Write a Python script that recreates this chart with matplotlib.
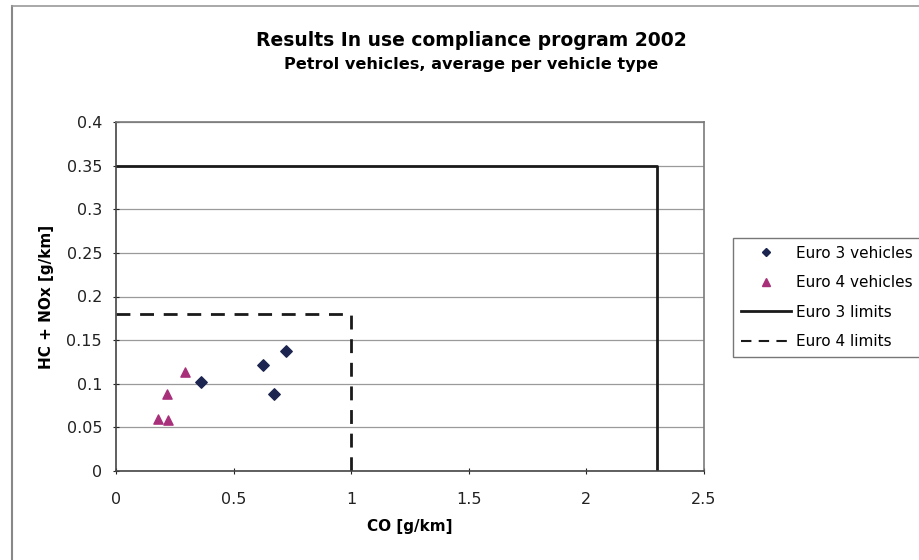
import matplotlib.pyplot as plt
from matplotlib.lines import Line2D

plt.rcParams['font.family'] = ['DejaVu Sans']

# datos
euro3_co = [0.36, 0.625, 0.673, 0.724]
euro3_hc = [0.102, 0.121, 0.088, 0.137]
euro4_co = [0.18, 0.219, 0.216, 0.293]
euro4_hc = [0.060, 0.059, 0.088, 0.114]

# limites (CO, HC+NOx)
euro3_lim = [2.3, 0.35]
euro4_lim = [1.0, 0.18]

x_ticks = [0, 0.5, 1, 1.5, 2, 2.5]
y_ticks = [0, 0.05, 0.1, 0.15, 0.2, 0.25, 0.3, 0.35, 0.4]

fig = plt.figure(figsize=(9.19, 5.60), dpi=100)
ax = fig.add_axes([116 / 919, 1 - 471 / 560, (704 - 116) / 919, (471 - 122) / 560])

# grilla horizontal
ax.set_axisbelow(True)
ax.yaxis.grid(True, color='#9a9a9a', linewidth=0.9)

# lineas de limites
ax.plot([0, euro3_lim[0], euro3_lim[0]], [euro3_lim[1], euro3_lim[1], 0],
        color='#1a1a1a', linewidth=2, label='Euro 3 limits')
ax.plot([0, euro4_lim[0], euro4_lim[0]], [euro4_lim[1], euro4_lim[1], 0],
        color='#1a1a1a', linewidth=2, linestyle=(0, (5, 3.5)), label='Euro 4 limits')

# puntos
ax.scatter(euro3_co, euro3_hc, marker='D', s=34, color='#1c2550', zorder=3,
           label='Euro 3 vehicles')
ax.scatter(euro4_co, euro4_hc, marker='^', s=44, color='#a8307a', zorder=3,
           label='Euro 4 vehicles')

ax.set_xlim(0, 2.5)
ax.set_ylim(0, 0.4)
ax.set_xticks(x_ticks)
ax.set_xticklabels(['0', '0.5', '1', '1.5', '2', '2.5'])
ax.set_yticks(y_ticks)
ax.set_yticklabels(['0', '0.05', '0.1', '0.15', '0.2', '0.25', '0.3', '0.35', '0.4'])
ax.tick_params(labelsize=11.5, colors='#222222', length=4, direction='inout')
ax.tick_params(axis='x', pad=13)
ax.tick_params(axis='y', pad=8)
for s in ax.spines.values():
    s.set_color('#7a7a7a')
    s.set_linewidth(1.2)
ax.spines['left'].set_color('#444444')
ax.spines['bottom'].set_color('#444444')

ax.set_xlabel('CO [g/km]', fontsize=11, fontweight='bold', labelpad=9)
ax.set_ylabel('HC + NOx [g/km]', fontsize=11, fontweight='bold', labelpad=9)

fig.text(471 / 919, 1 - 40 / 560, 'Results In use compliance program 2002',
         ha='center', va='center', fontsize=13.5, fontweight='bold')
fig.text(471 / 919, 1 - 64 / 560, 'Petrol vehicles, average per vehicle type',
         ha='center', va='center', fontsize=11.6, fontweight='bold')

# leyenda
handles = [
    Line2D([], [], marker='D', color='#1c2550', linestyle='none', markersize=4.5),
    Line2D([], [], marker='^', color='#a8307a', linestyle='none', markersize=5.5),
    Line2D([], [], color='#1a1a1a', linewidth=2),
    Line2D([], [], color='#1a1a1a', linewidth=1.5, linestyle=(0, (5, 3.5))),
]
labels = ['Euro 3 vehicles', 'Euro 4 vehicles', 'Euro 3 limits', 'Euro 4 limits']
leg = fig.legend(handles, labels, loc='upper left',
                 bbox_to_anchor=(733 / 919, 1 - 238 / 560), fontsize=11,
                 frameon=True, fancybox=False, edgecolor='#555555',
                 handlelength=3.3, handletextpad=0.35, borderpad=0.5,
                 labelspacing=0.95, borderaxespad=0)
leg.get_frame().set_linewidth(1)

# borde de la figura
fig.add_artist(Line2D([12 / 919, 12 / 919], [0, 1 - 6 / 560], color='#888888', linewidth=1.5))
fig.add_artist(Line2D([12 / 919, 1], [1 - 6 / 560, 1 - 6 / 560], color='#999999', linewidth=1.2))

fig.savefig('out.png', dpi=100)
